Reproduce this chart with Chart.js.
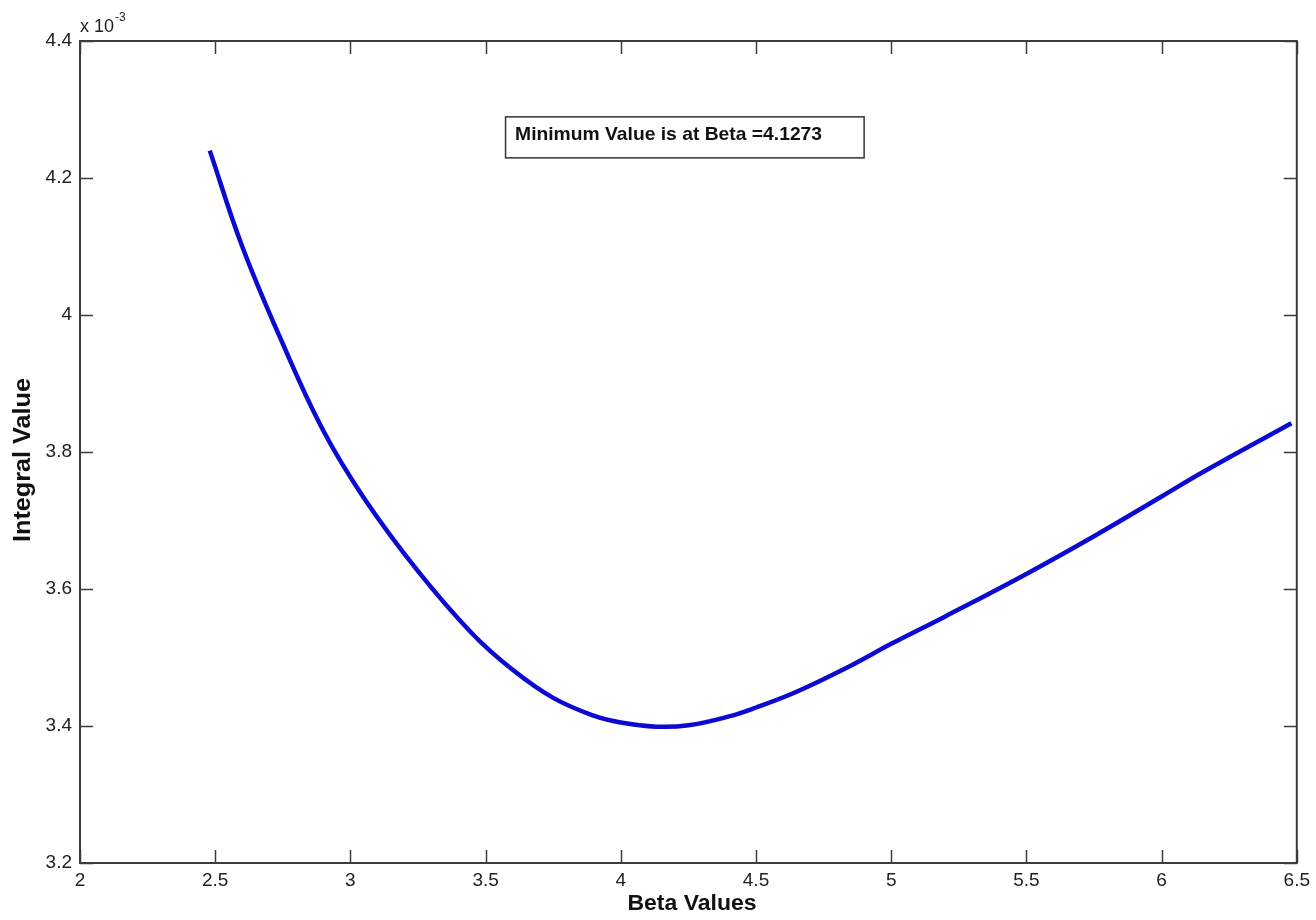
<!DOCTYPE html>
<html>
<head>
<meta charset="utf-8">
<script src="https://cdn.jsdelivr.net/npm/chart.js@4.4.1/dist/chart.umd.min.js"></script>
<style>
  html, body { margin: 0; padding: 0; background: #ffffff; }
  #wrap { width: 1316px; height: 920px; }
</style>
</head>
<body>
<div id="wrap"><canvas id="c" width="1316" height="920"></canvas></div>
<script>
// Beta values (x) and integral values (y, in units of 10^-3)
const betaValues = [2.48, 2.6, 2.75, 2.9, 3.05, 3.25, 3.45, 3.6, 3.75, 3.9, 4.0, 4.13, 4.25, 4.4, 4.5, 4.65, 4.85, 5.0, 5.2, 5.5, 5.75, 6.0, 6.15, 6.48];
const integralValues = [4.240, 4.100, 3.958, 3.831, 3.733, 3.626, 3.535, 3.482, 3.441, 3.415, 3.405, 3.399, 3.401, 3.414, 3.427, 3.450, 3.488, 3.520, 3.560, 3.622, 3.677, 3.735, 3.770, 3.842];
const xTicks = [2, 2.5, 3, 3.5, 4, 4.5, 5, 5.5, 6, 6.5];
const yTicks = [3.2, 3.4, 3.6, 3.8, 4.0, 4.2, 4.4];
const xTitle = 'Beta Values';
const yTitle = 'Integral Value';
const annotationText = 'Minimum Value is at Beta =4.1273';
const annotationAnchor = [3.572, 4.29];

const points = betaValues.map((b, i) => ({ x: b, y: integralValues[i] }));

const FRAME = '#3c3c3c';
const FONT = '"Liberation Sans", Arial, Helvetica, sans-serif';

function stretchedText(ctx, text, targetLen) {
  const w = ctx.measureText(text).width;
  const s = targetLen / w;
  ctx.save();
  ctx.scale(s, 1);
  ctx.fillText(text, 0, 0);
  ctx.restore();
}

const matlabFrame = {
  id: 'matlabFrame',
  afterDraw(chart) {
    const { ctx, chartArea: a, scales } = chart;
    const xs = scales.x, ys = scales.y;
    ctx.save();
    // ticks (inward, on all four sides)
    ctx.strokeStyle = FRAME;
    ctx.lineWidth = 1.5;
    const tl = 13;
    ctx.beginPath();
    xTicks.forEach(v => {
      const px = Math.round(xs.getPixelForValue(v)) + 0.5;
      ctx.moveTo(px, a.bottom); ctx.lineTo(px, a.bottom - tl);
      ctx.moveTo(px, a.top); ctx.lineTo(px, a.top + tl);
    });
    yTicks.forEach(v => {
      const py = Math.round(ys.getPixelForValue(v)) + 0.5;
      ctx.moveTo(a.left, py); ctx.lineTo(a.left + tl, py);
      ctx.moveTo(a.right, py); ctx.lineTo(a.right - tl, py);
    });
    ctx.stroke();
    // frame
    ctx.lineWidth = 2;
    ctx.strokeRect(a.left, a.top, a.right - a.left, a.bottom - a.top);

    // exponent label
    ctx.fillStyle = '#222';
    ctx.textAlign = 'left';
    ctx.textBaseline = 'alphabetic';
    ctx.font = '18px ' + FONT;
    ctx.fillText('x 10', a.left, 32);
    const w = ctx.measureText('x 10').width;
    ctx.font = '12px ' + FONT;
    ctx.fillText('-3', a.left + w + 1, 21);

    // axis titles
    ctx.fillStyle = '#111';
    ctx.textAlign = 'center';
    ctx.textBaseline = 'middle';
    ctx.font = 'bold 22px ' + FONT;
    ctx.save();
    ctx.translate(692, 904);
    stretchedText(ctx, xTitle, 129);
    ctx.restore();
    ctx.font = 'bold 23px ' + FONT;
    ctx.save();
    ctx.translate(24, 460);
    ctx.rotate(-Math.PI / 2);
    stretchedText(ctx, yTitle, 164);
    ctx.restore();

    // annotation box
    const bx = xs.getPixelForValue(annotationAnchor[0]);
    const by = ys.getPixelForValue(annotationAnchor[1]);
    ctx.font = 'bold 19px ' + FONT;
    const tw = ctx.measureText(annotationText).width;
    const bw = tw + 56, bh = 41;
    ctx.fillStyle = '#ffffff';
    ctx.fillRect(bx, by, bw, bh);
    ctx.strokeStyle = '#333';
    ctx.lineWidth = 1.5;
    ctx.strokeRect(bx + 0.5, by + 0.5, bw, bh);
    ctx.fillStyle = '#111';
    ctx.textAlign = 'left';
    ctx.textBaseline = 'alphabetic';
    ctx.save();
    ctx.translate(bx + 10, by + 24);
    stretchedText(ctx, annotationText, 307);
    ctx.restore();
    ctx.restore();
  }
};

new Chart(document.getElementById('c'), {
  type: 'scatter',
  data: {
    datasets: [{
      data: points,
      showLine: true,
      borderColor: 'rgb(10,10,210)',
      backgroundColor: 'rgb(10,10,210)',
      borderWidth: 4.5,
      pointRadius: 0,
      tension: 0.4,
      borderCapStyle: 'butt'
    }]
  },
  options: {
    responsive: false,
    animation: false,
    devicePixelRatio: 1,
    layout: { padding: { top: 41, right: 19, left: 0, bottom: 0 } },
    plugins: { legend: { display: false }, tooltip: { enabled: false } },
    scales: {
      x: {
        type: 'linear',
        min: 2, max: 6.5,
        afterBuildTicks(s) { s.ticks = xTicks.map(v => ({ value: v })); },
        afterFit(s) { s.height = 57; },
        grid: { display: false, drawTicks: false },
        border: { display: false },
        ticks: {
          padding: 6,
          color: '#222',
          font: { family: FONT, size: 19 },
          maxRotation: 0,
          autoSkip: false,
          callback: v => String(+(+v).toFixed(1))
        }
      },
      y: {
        type: 'linear',
        min: 3.2, max: 4.4,
        afterBuildTicks(s) { s.ticks = yTicks.map(v => ({ value: v })); },
        afterFit(s) { s.width = 80; },
        grid: { display: false, drawTicks: false },
        border: { display: false },
        ticks: {
          padding: 8,
          color: '#222',
          font: { family: FONT, size: 19 },
          autoSkip: false,
          callback: v => String(+(+v).toFixed(1))
        }
      }
    }
  },
  plugins: [matlabFrame]
});
</script>
</body>
</html>
